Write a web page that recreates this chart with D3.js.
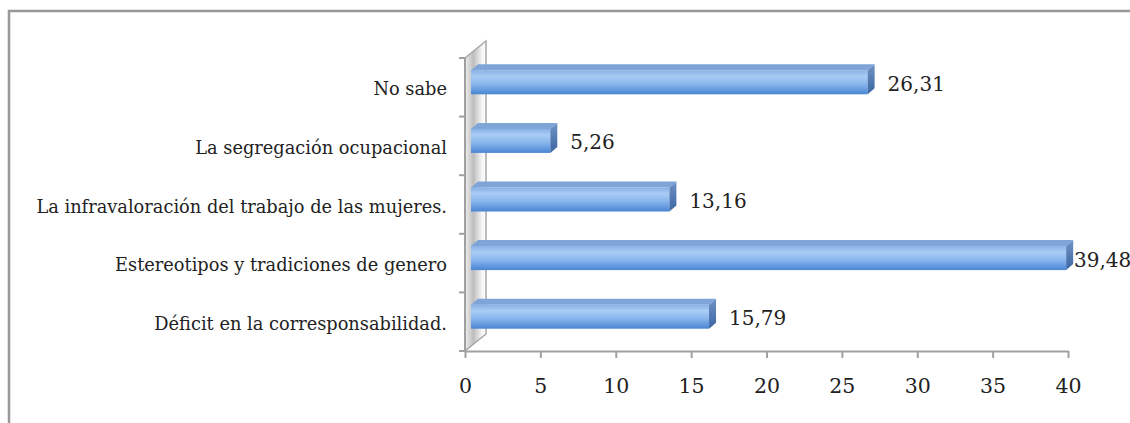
<!DOCTYPE html>
<html>
<head>
<meta charset="utf-8">
<script src="https://cdn.jsdelivr.net/npm/d3@7"></script>
<style>
  html, body { margin: 0; padding: 0; background: #fff; }
  svg { display: block; }
</style>
</head>
<body>
<svg id="chart" width="1130" height="423"></svg>
<script>
// Categories (top to bottom) and their percentages
const categories = [
  "No sabe",
  "La segregación ocupacional",
  "La infravaloración del trabajo de las mujeres.",
  "Estereotipos y tradiciones de genero",
  "Déficit en la corresponsabilidad."
];
const values = [26.31, 5.26, 13.16, 39.48, 15.79];
const valueLabels = ["26,31", "5,26", "13,16", "39,48", "15,79"];
const xTicks = [0, 5, 10, 15, 20, 25, 30, 35, 40];

const svg = d3.select("#chart");
const W = 1130, H = 423;

const x = d3.scaleLinear().domain([0, 40]).range([465, 1068]);
const y = d3.scaleBand().domain(categories).range([58, 351]);

// 3D projection offsets
const wallDx = 21, wallDy = -17;   // depth of the side wall
const barShift = 6;                // bar front face offset from the wall front
const barDx = 7, barDy = -6;       // bar depth
const barH = 24;

const defs = svg.append("defs");
const frontGrad = defs.append("linearGradient").attr("id", "barFront")
  .attr("x1", 0).attr("y1", 0).attr("x2", 0).attr("y2", 1);
frontGrad.append("stop").attr("offset", "0%").attr("stop-color", "#86b0e6");
frontGrad.append("stop").attr("offset", "25%").attr("stop-color", "#a9ccf5");
frontGrad.append("stop").attr("offset", "55%").attr("stop-color", "#8cb8ee");
frontGrad.append("stop").attr("offset", "100%").attr("stop-color", "#4a86d3");

const sideGrad = defs.append("linearGradient").attr("id", "barSide")
  .attr("x1", 0).attr("y1", 0).attr("x2", 0).attr("y2", 1);
sideGrad.append("stop").attr("offset", "0%").attr("stop-color", "#6f93c4");
sideGrad.append("stop").attr("offset", "100%").attr("stop-color", "#3b65a3");

const wallGrad = defs.append("linearGradient").attr("id", "wall")
  .attr("x1", 0).attr("y1", 0).attr("x2", 1).attr("y2", 0);
wallGrad.append("stop").attr("offset", "0%").attr("stop-color", "#efefef");
wallGrad.append("stop").attr("offset", "40%").attr("stop-color", "#bdbdbd");
wallGrad.append("stop").attr("offset", "80%").attr("stop-color", "#f4f4f4");
wallGrad.append("stop").attr("offset", "100%").attr("stop-color", "#ffffff");

// Outer frame
svg.append("path")
  .attr("d", `M9,${H} L9,11 L${W},11`)
  .attr("fill", "none").attr("stroke", "#999").attr("stroke-width", 2.5);

// Side wall
const y0 = y.range()[0], y1 = y.range()[1];
const x0 = x(0);
svg.append("path")
  .attr("d", `M${x0},${y0} L${x0 + wallDx},${y0 + wallDy} L${x0 + wallDx},${y1 + wallDy} L${x0},${y1} Z`)
  .attr("fill", "url(#wall)")
  .attr("stroke", "#a6a6a6").attr("stroke-width", 1.5);

// Category axis with ticks at band boundaries
const bounds = categories.map(c => y(c)).concat([y1]);
svg.append("line").attr("x1", x0).attr("x2", x0).attr("y1", y0).attr("y2", y1)
  .attr("stroke", "#a0a0a0").attr("stroke-width", 2);
svg.selectAll(".ytick").data(bounds).join("line")
  .attr("x1", x0 - 6).attr("x2", x0).attr("y1", d => d).attr("y2", d => d)
  .attr("stroke", "#a0a0a0").attr("stroke-width", 2);

// Value axis
const xAxis = svg.append("g").attr("transform", `translate(0,${y1})`)
  .call(d3.axisBottom(x).tickValues(xTicks).tickSize(7).tickSizeOuter(0).tickPadding(20));
xAxis.select(".domain").attr("stroke", "#a0a0a0").attr("stroke-width", 2);
xAxis.selectAll(".tick line").attr("stroke", "#a0a0a0").attr("stroke-width", 2);
xAxis.selectAll(".tick text")
  .attr("font-family", "'DejaVu Serif', serif").attr("font-size", 20.5).attr("fill", "#222");

// Bars (front, top and side faces)
const rows = categories.map((c, i) => ({ c, v: values[i], label: valueLabels[i] }));
const bars = svg.selectAll(".bar").data(rows).join("g").attr("class", "bar");
const fy = d => y(d.c) + y.bandwidth() / 2 - 5 - barH / 2;
const fx0 = x0 + barShift;
const fx1 = d => x(d.v) + barShift;

bars.append("path").attr("fill", "#7fa5d8")
  .attr("d", d => `M${fx0},${fy(d)} L${fx0 + barDx},${fy(d) + barDy} L${fx1(d) + barDx},${fy(d) + barDy} L${fx1(d)},${fy(d)} Z`);
bars.append("rect").attr("fill", "url(#barFront)")
  .attr("x", fx0).attr("y", fy).attr("width", d => fx1(d) - fx0).attr("height", barH);
bars.append("path").attr("fill", "url(#barSide)")
  .attr("d", d => `M${fx1(d)},${fy(d)} L${fx1(d) + barDx},${fy(d) + barDy} L${fx1(d) + barDx},${fy(d) + barDy + barH} L${fx1(d)},${fy(d) + barH} Z`);

// Value labels
bars.append("text")
  .attr("x", d => Math.min(fx1(d) + barDx + 13, 1074))
  .attr("y", d => fy(d) + barH / 2 + 3)
  .attr("dominant-baseline", "middle")
  .attr("font-family", "'DejaVu Serif', serif").attr("font-size", 20).attr("fill", "#222")
  .text(d => d.label);

// Category labels
svg.selectAll(".cat").data(categories).join("text")
  .attr("x", 447).attr("y", d => y(d) + y.bandwidth() / 2 + 3)
  .attr("text-anchor", "end").attr("dominant-baseline", "middle")
  .attr("font-family", "'DejaVu Serif', serif").attr("font-size", 17.8).attr("fill", "#222")
  .text(d => d);
</script>
</body>
</html>
